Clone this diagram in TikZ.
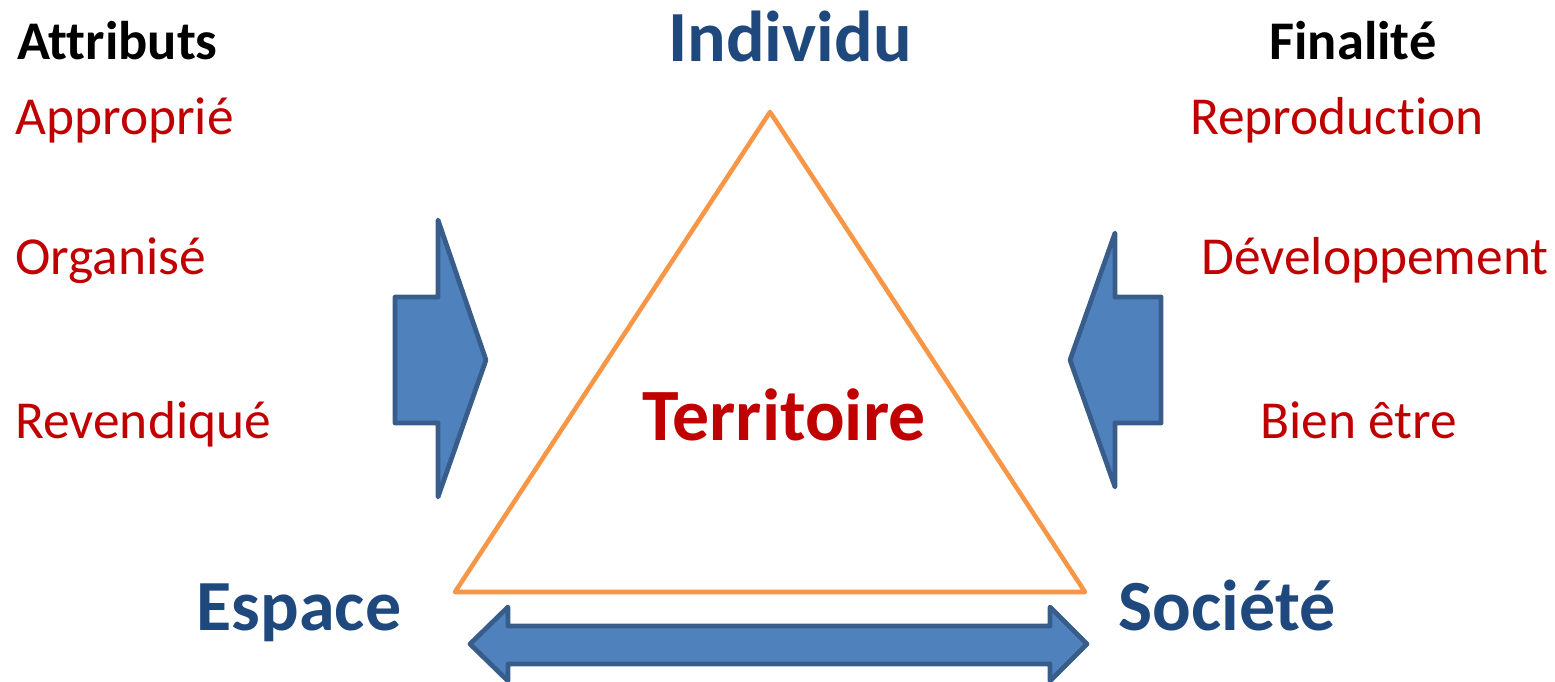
\documentclass[tikz,border=0pt]{standalone}
\usepackage{fontspec}
\setmainfont[RawFeature={-liga;-clig;-dlig;-calt}]{Carlito}
\definecolor{tblue}{HTML}{1F497D}
\definecolor{tred}{HTML}{C00000}
\definecolor{aorange}{HTML}{F79646}
\definecolor{afill}{HTML}{4F81BD}
\definecolor{aline}{HTML}{385D8A}
\tikzset{
  txt/.style={inner sep=0pt, font=\fontsize{30.4}{36}\selectfont},
  head/.style={inner sep=0pt, font=\fontsize{31}{37}\selectfont\bfseries, text=black},
  attr/.style={txt, text=tred},
  pole/.style={inner sep=0pt, font=\fontsize{41}{49}\selectfont\bfseries, text=tblue},
  center/.style={inner sep=0pt, font=\fontsize{42}{50}\selectfont\bfseries, text=tred},
  bigarrow/.style={fill=afill, draw=aline, line width=2.7pt, line join=round},
  tri/.style={draw=aorange, line width=2.6pt, line join=round}
}
\begin{document}
\begin{tikzpicture}[x=0.02cm,y=-0.02cm]
\useasboundingbox (0,0) rectangle (1555,682);
% triangle
\coordinate (apex) at (770,112);
\coordinate (bl) at (455,592);
\coordinate (br) at (1085,592);
\draw[tri] (apex) -- (bl) -- (br) -- cycle;
% left arrow
\draw[bigarrow] (395,297) -- (438,297) -- (438,220) -- (486,360) -- (438,497) -- (438,423) -- (395,423) -- cycle;
% right arrow
\draw[bigarrow] (1161,297) -- (1115,297) -- (1115,233) -- (1070,360) -- (1115,487) -- (1115,423) -- (1161,423) -- cycle;
% double arrow
\draw[bigarrow] (470,644) -- (508,607) -- (508,626) -- (1050,626) -- (1050,607) -- (1087,644) -- (1050,681) -- (1050,664) -- (508,664) -- (508,681) -- cycle;
% texts
\node[head, anchor=base west] (attributs) at (17,60) {Attributs};
\node[attr, anchor=base west] (approprie) at (15,135) {Approprié};
\node[attr, anchor=base west] (organise) at (15,275) {Organisé};
\node[attr, anchor=base west] (revendique) at (15,438) {Revendiqué};
\node[head, anchor=base] (finalite) at (1353,60) {Finalité};
\node[attr, anchor=base] (reproduction) at (1337,135) {Reproduction};
\node[attr, anchor=base] (developpement) at (1375,275) {Développement};
\node[attr, anchor=base] (bienetre) at (1359,438) {Bien être};
\node[pole, anchor=base] (individu) at (790,62) {Individu};
\node[pole, anchor=base] (espace) at (299,630) {Espace};
\node[pole, anchor=base] (societe) at (1227,630) {Société};
\node[center, anchor=base] (territoire) at (784,440) {Territoire};
\end{tikzpicture}
\end{document}
